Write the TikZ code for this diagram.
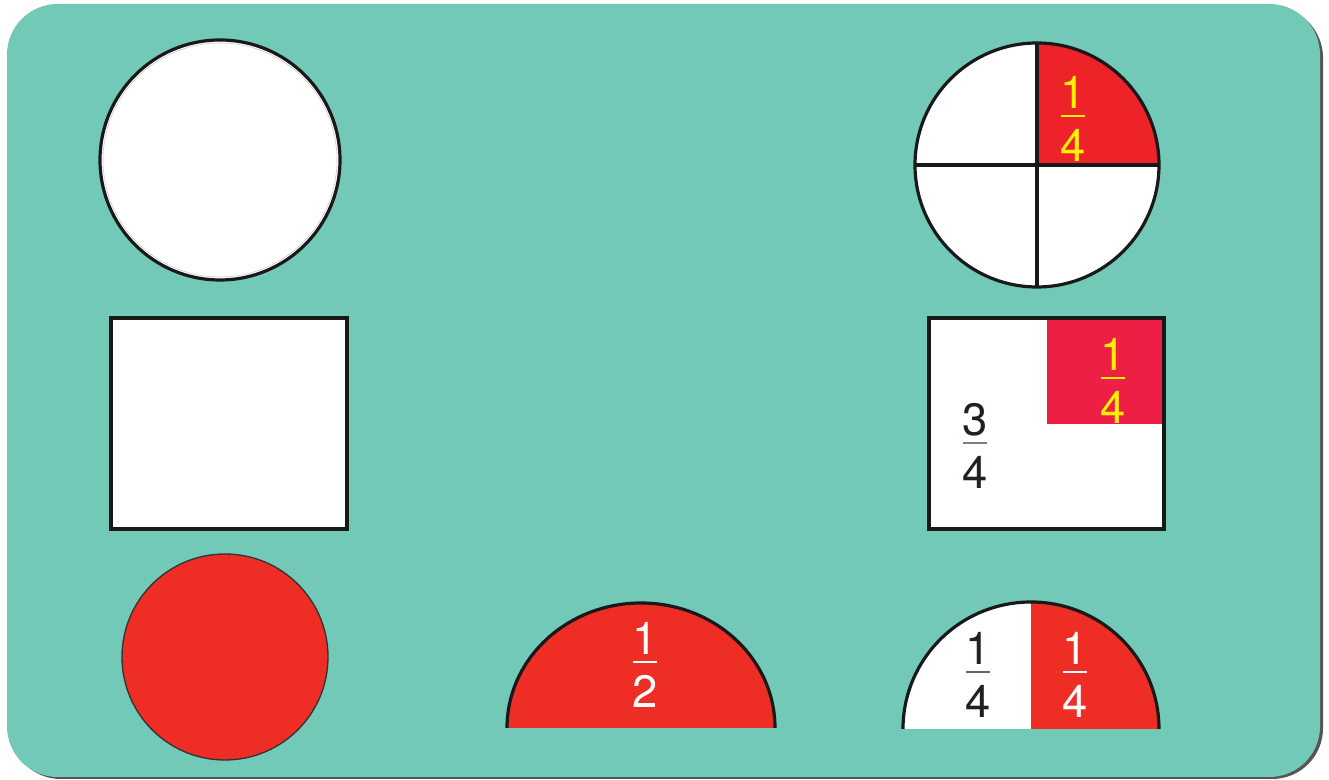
\documentclass[tikz,border=0pt]{standalone}
\usepackage{fontspec}
\setmainfont{TeX Gyre Heros}
\usetikzlibrary{calc}
\definecolor{boardteal}{HTML}{72C9B8}
\definecolor{boardshade}{HTML}{555555}
\definecolor{partred}{HTML}{EE2229}
\definecolor{partpink}{HTML}{EE1F44}
\definecolor{halfred}{HTML}{EE2D24}
\definecolor{fracyellow}{HTML}{FFF200}
\definecolor{fracink}{HTML}{231F20}
\tikzset{
  piece/.style={draw=black!90, line width=2.4pt, fill=white},
  rim/.style={draw=black!90, line width=2.4pt},
  digit/.style={font=\fontsize{34}{36}\selectfont, inner sep=0pt, anchor=base},
}
% fraction: name, bar centre, numerator, denominator, text colour, bar colour
\newcommand{\fracat}[6]{%
  \node[digit, text=#5] (#1-num) at ($#2+(0,7)$) {#3};
  \node[digit, text=#5] (#1-den) at ($#2+(0,-46)$) {#4};
  \draw[#6, line width=1.1pt] ($#2+(-12,0)$) -- ($#2+(12,0)$);}

\begin{document}
\begin{tikzpicture}[x=0.75pt, y=0.75pt]
  \useasboundingbox (0,0) rectangle (1329,780);
  \fill[boardshade, rounded corners=38pt] (10,1) rectangle (1323,773);
  \fill[boardteal, rounded corners=38pt] (7,3) rectangle (1320,776);
  % whole shapes
  \draw[piece] (220,620) circle (120);
  \draw[gray!45, line width=0.4pt] (220,620) circle (117);
  \draw[piece] (111,251) rectangle (347,462);
  \draw[fill=halfred, draw=black!80, line width=1pt] (225,123) circle (103);
  % circle in quarters
  \coordinate (qc) at (1037,615);
  \fill[white] (qc) circle (122);
  \fill[partred] (qc) -- ++(122,0) arc[start angle=0, end angle=90, radius=122] -- cycle;
  \draw[rim] (qc) circle (122);
  \draw[rim] ($(qc)+(-122,0)$) -- ($(qc)+(122,0)$);
  \draw[rim] ($(qc)+(0,-122)$) -- ($(qc)+(0,122)$);
  \fracat{qa}{(1073,664)}{1}{4}{fracyellow}{fracyellow}
  % square in quarters
  \fill[white] (929,251) rectangle (1164,462);
  \fill[partpink] (1047,356) rectangle (1164,462);
  \draw[rim] (929,251) rectangle (1164,462);
  \fracat{sa}{(1113,402)}{1}{4}{fracyellow}{fracyellow}
  \fracat{sb}{(975,337)}{3}{4}{fracink}{black!50}
  % half
  \fill[halfred] (507,52) arc[start angle=180, end angle=0, x radius=134, y radius=125] -- cycle;
  \draw[rim] (507,52) arc[start angle=180, end angle=0, x radius=134, y radius=125];
  \fracat{ha}{(645,118)}{1}{2}{white}{white}
  % half in quarters
  \coordinate (hc) at (1031,51);
  \fill[white] (hc) -- ++(-128,0) arc[start angle=180, end angle=90, x radius=128, y radius=127] -- cycle;
  \fill[halfred] (hc) -- ++(128,0) arc[start angle=0, end angle=90, x radius=128, y radius=127] -- cycle;
  \draw[rim] ($(hc)+(-128,0)$) arc[start angle=180, end angle=0, x radius=128, y radius=127];
  \fracat{hb}{(978,108)}{1}{4}{fracink}{black!60}
  \fracat{hd}{(1075,108)}{1}{4}{white}{white}
\end{tikzpicture}
\end{document}
